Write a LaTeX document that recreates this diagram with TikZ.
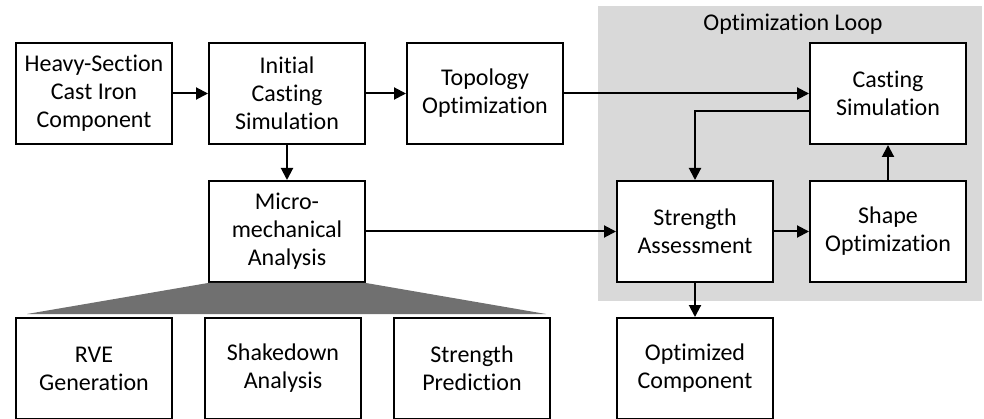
\documentclass[tikz,border=0pt]{standalone}
\usepackage{fontspec}
\setmainfont{Carlito}[Ligatures={TeX,NoCommon}]
\usetikzlibrary{arrows.meta, positioning}
\definecolor{loopgrey}{RGB}{217,217,217}
\definecolor{fangrey}{RGB}{112,112,112}
\tikzstyle{block} = [rectangle, draw=black, line width=2pt, fill=white, minimum width=156pt, minimum height=101pt, text centered, align=center, font=\fontsize{24}{28}\selectfont]
\tikzstyle{line} = [line width=2pt, ->, >={Triangle[length=12pt,width=12pt]}]

\begin{document}
\begin{tikzpicture}[x=1pt, y=-1pt, node distance=35pt]
  \useasboundingbox (0,0) rectangle (984,419);

  % grey background of the loop
  \node (loop) [fill=loopgrey, inner sep=0pt, minimum width=384pt, minimum height=295pt, anchor=north west] at (598,6) {};
  \node (looptitle) [anchor=base, font=\fontsize{24}{28}\selectfont] at (793,30.5) {Optimization Loop};

  \node (heavy) [block] at (94,93.5) {Heavy-Section\\Cast Iron\\Component};
  \node (initial) [block, right=of heavy] {Initial\\Casting\\Simulation};
  \node (topology) [block, right=40pt of initial] {Topology\\Optimization};
  \node (micro) [block, below=of initial] {Micro-\\mechanical\\Analysis};

  \node (strength) [block] at (695,231.5) {Strength\\Assessment};
  \node (shape) [block, right=of strength] {Shape\\Optimization};
  \node (casting) [block, above=of shape] {Casting\\Simulation};
  \node (optimized) [block, below=34pt of strength] {Optimized\\Component};

  \node (rve) [block] at (heavy |- optimized) {RVE\\Generation};
  \node (shakedown) [block, right=31pt of rve] {Shakedown\\Analysis};
  \node (prediction) [block, right=31pt of shakedown] {Strength\\Prediction};

  % fan from micro to the three sub-steps
  \fill [fangrey] (micro.south west) -- (micro.south east)
    -- ([xshift=-5pt, yshift=3pt]prediction.north east)
    -- ([xshift=12pt, yshift=3pt]rve.north west) -- cycle;

  \draw [line] (heavy) -- (initial);
  \draw [line] (initial) -- (topology);
  \draw [line] (topology) -- (casting);
  \draw [line] (initial) -- (micro);
  \draw [line] (micro) -- (strength);
  \draw [line] (strength) -- (shape);
  \draw [line] (shape) -- (casting);
  \draw [line] ([yshift=-18pt]casting.west) -| (strength.north);
  \draw [line] (strength) -- (optimized);

\end{tikzpicture}
\end{document}
